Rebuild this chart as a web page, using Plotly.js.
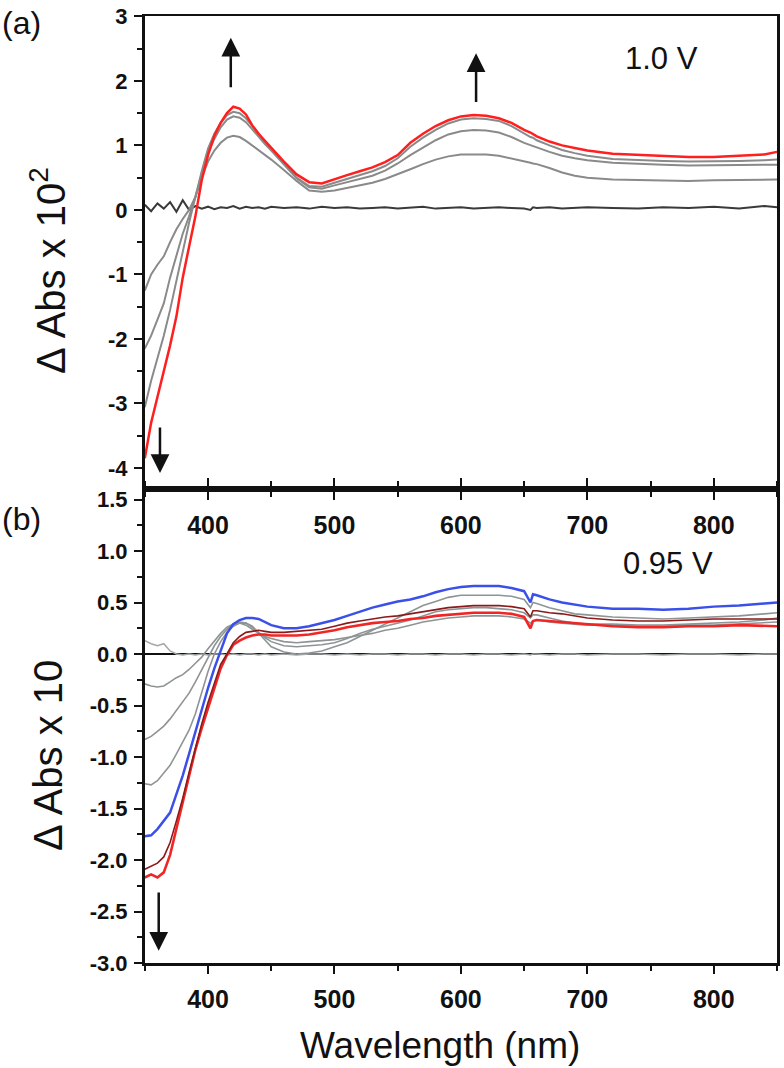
<!DOCTYPE html>
<html>
<head>
<meta charset="utf-8">
<script src="https://cdn.plot.ly/plotly-3.0.1.min.js"></script>
<style>
  html, body { margin: 0; padding: 0; background: #ffffff; }
  #chart { width: 784px; height: 1068px; }
</style>
</head>
<body>
<div id="chart"></div>
<script>
// Wavelength grid (nm), shared by all spectra
const wavelength = [350,355,360,365,370,375,380,385,390,395,
  400,405,410,415,420,425,430,435,440,445,
  450,460,470,480,490,500,510,520,530,540,
  550,560,570,580,590,600,610,620,630,640,
  650,655,657,660,670,680,690,700,720,740,
  760,780,800,820,840,850];

// ---- Panel (a), 1.0 V, ΔAbs x 10^2 ----
const aBaseline = [0.08,-0.02,0.1,0.02,0.12,-0.03,0.15,0.0,0.06,0.02,
  0.05,0.01,0.04,0.03,0.06,0.02,0.05,0.03,0.04,0.02,
  0.05,0.03,0.04,0.02,0.05,0.03,0.04,0.02,0.03,0.04,
  0.02,0.03,0.05,0.02,0.03,0.04,0.02,0.03,0.04,0.03,
  0.02,0.0,0.04,0.03,0.04,0.02,0.03,0.04,0.03,0.02,
  0.04,0.03,0.05,0.02,0.06,0.04];
const aGray1 = [-1.25,-1.0,-0.85,-0.72,-0.5,-0.3,-0.14,0.0,0.2,0.5,
  0.75,0.92,1.04,1.12,1.15,1.13,1.07,1.0,0.92,0.85,
  0.78,0.62,0.45,0.3,0.28,0.3,0.34,0.38,0.42,0.48,
  0.55,0.63,0.71,0.78,0.83,0.86,0.86,0.86,0.84,0.8,
  0.75,0.73,0.72,0.71,0.65,0.58,0.53,0.5,0.47,0.46,
  0.46,0.45,0.46,0.46,0.46,0.47];
const aGray2 = [-2.15,-1.95,-1.7,-1.45,-1.05,-0.7,-0.37,-0.1,0.2,0.55,
  0.88,1.1,1.28,1.4,1.45,1.43,1.36,1.25,1.13,1.02,
  0.92,0.7,0.49,0.35,0.33,0.38,0.43,0.48,0.53,0.61,
  0.72,0.85,0.97,1.08,1.17,1.22,1.24,1.23,1.2,1.13,
  1.04,1.0,0.99,0.97,0.9,0.84,0.8,0.77,0.73,0.71,
  0.7,0.69,0.69,0.69,0.7,0.7];
const aGray3 = [-3.06,-2.65,-2.3,-1.95,-1.55,-1.1,-0.63,-0.2,0.2,0.6,
  0.95,1.18,1.35,1.47,1.52,1.5,1.42,1.3,1.17,1.05,
  0.94,0.72,0.5,0.37,0.36,0.42,0.48,0.54,0.6,0.68,
  0.8,0.98,1.12,1.24,1.34,1.4,1.42,1.41,1.38,1.3,
  1.18,1.13,1.12,1.08,1.0,0.93,0.88,0.84,0.79,0.77,
  0.76,0.75,0.75,0.76,0.77,0.78];
const aRed = [-3.85,-3.3,-2.9,-2.5,-2.1,-1.65,-1.05,-0.57,-0.1,0.46,
  0.85,1.15,1.35,1.5,1.6,1.57,1.48,1.31,1.18,1.07,
  0.96,0.75,0.55,0.43,0.41,0.48,0.54,0.6,0.66,0.74,
  0.85,1.04,1.18,1.3,1.39,1.45,1.47,1.46,1.42,1.35,
  1.24,1.2,1.18,1.14,1.06,1.0,0.96,0.92,0.87,0.85,
  0.84,0.82,0.82,0.84,0.86,0.9];

// ---- Panel (b), 0.95 V, ΔAbs x 10 ----
const bGrayA = [0.13,0.1,0.08,0.1,0.03,0.0,-0.01,0.0,-0.01,0.0,
  -0.01,0.0,0.0,-0.01,0.0,-0.01,0.0,0.0,-0.01,0.0,
  -0.01,0.0,-0.01,0.0,0.0,-0.01,0.0,-0.01,0.0,0.0,
  -0.01,0.0,0.0,-0.01,0.0,0.0,-0.01,0.0,0.0,-0.01,
  0.0,-0.01,0.0,0.0,-0.01,0.0,0.0,-0.01,0.0,0.0,
  -0.01,0.0,0.0,-0.01,0.0,0.0];
const bGrayB = [-0.29,-0.31,-0.32,-0.31,-0.27,-0.23,-0.2,-0.15,-0.09,-0.03,
  0.05,0.13,0.2,0.26,0.29,0.3,0.28,0.24,0.2,0.17,
  0.15,0.12,0.11,0.12,0.13,0.14,0.16,0.18,0.2,0.23,
  0.25,0.28,0.31,0.33,0.35,0.36,0.37,0.37,0.37,0.36,
  0.34,0.3,0.32,0.33,0.31,0.3,0.29,0.28,0.28,0.27,
  0.27,0.28,0.28,0.29,0.3,0.31];
const bGrayC = [-0.83,-0.8,-0.75,-0.7,-0.63,-0.55,-0.47,-0.38,-0.27,-0.15,
  -0.03,0.08,0.17,0.24,0.29,0.31,0.3,0.26,0.21,0.16,
  0.12,0.08,0.07,0.08,0.09,0.11,0.15,0.2,0.24,0.27,
  0.3,0.33,0.37,0.41,0.43,0.44,0.45,0.45,0.44,0.43,
  0.4,0.35,0.38,0.38,0.35,0.32,0.3,0.29,0.29,0.28,
  0.28,0.29,0.3,0.31,0.33,0.35];
const bGrayD = [-1.26,-1.27,-1.23,-1.16,-1.08,-0.97,-0.86,-0.74,-0.58,-0.38,
  -0.17,0.0,0.12,0.21,0.27,0.3,0.3,0.27,0.2,0.13,
  0.07,0.02,0.0,0.01,0.03,0.07,0.11,0.17,0.23,0.29,
  0.35,0.41,0.47,0.51,0.55,0.57,0.57,0.57,0.57,0.56,
  0.53,0.45,0.5,0.49,0.45,0.42,0.39,0.38,0.36,0.35,
  0.34,0.35,0.36,0.37,0.39,0.4];
const bBlue = [-1.77,-1.76,-1.7,-1.62,-1.54,-1.36,-1.18,-0.97,-0.75,-0.53,
  -0.33,-0.14,0.03,0.2,0.29,0.33,0.35,0.35,0.34,0.31,
  0.28,0.25,0.25,0.27,0.3,0.33,0.37,0.41,0.45,0.48,
  0.51,0.53,0.56,0.6,0.63,0.65,0.66,0.66,0.66,0.64,
  0.61,0.5,0.58,0.57,0.53,0.5,0.48,0.46,0.44,0.44,
  0.43,0.44,0.46,0.47,0.49,0.5];
const bDarkRed = [-2.09,-2.06,-2.03,-1.97,-1.83,-1.62,-1.4,-1.15,-0.9,-0.68,
  -0.47,-0.28,-0.1,0.0,0.11,0.17,0.21,0.22,0.23,0.22,
  0.21,0.21,0.22,0.23,0.24,0.27,0.3,0.32,0.34,0.36,
  0.37,0.39,0.41,0.43,0.45,0.46,0.47,0.47,0.47,0.46,
  0.44,0.36,0.42,0.42,0.4,0.39,0.37,0.35,0.33,0.32,
  0.32,0.33,0.34,0.34,0.34,0.34];
const bRed = [-2.17,-2.14,-2.17,-2.12,-1.95,-1.7,-1.42,-1.17,-0.93,-0.72,
  -0.52,-0.33,-0.14,-0.01,0.09,0.13,0.16,0.18,0.19,0.19,
  0.18,0.18,0.18,0.19,0.21,0.23,0.26,0.28,0.3,0.31,
  0.32,0.34,0.35,0.37,0.38,0.39,0.4,0.4,0.4,0.39,
  0.36,0.25,0.32,0.33,0.32,0.31,0.3,0.29,0.27,0.26,
  0.26,0.27,0.27,0.28,0.27,0.27];

// Tick labels
const aTickVals = [-4,-3,-2,-1,0,1,2,3];
const aTickText = ['-4','-3','-2','-1','0','1','2','3'];
const bTickVals = [-3,-2.5,-2,-1.5,-1,-0.5,0,0.5,1,1.5];
const bTickText = ['-3.0','-2.5','-2.0','-1.5','-1.0','-0.5','0.0','0.5','1.0','1.5'];

const FONT = 'Liberation Sans, Arial, sans-serif';

function line(y, color, width, xa, ya) {
  return { x: wavelength, y: y, type: 'scatter', mode: 'lines',
    line: { color: color, width: width }, xaxis: xa, yaxis: ya,
    showlegend: false, hoverinfo: 'skip' };
}

const traces = [
  line(aBaseline, '#3a3a3a', 2, 'x', 'y'),
  line(aGray1, '#8a8a8a', 2, 'x', 'y'),
  line(aGray2, '#8a8a8a', 2, 'x', 'y'),
  line(aGray3, '#8a8a8a', 2, 'x', 'y'),
  line(aRed, '#ff1f1f', 2.5, 'x', 'y'),
  line(bGrayA, '#a4a8a8', 1.5, 'x2', 'y2'),
  line(bGrayB, '#8e9494', 1.6, 'x2', 'y2'),
  line(bGrayC, '#8e9494', 1.6, 'x2', 'y2'),
  line(bGrayD, '#8e9494', 1.6, 'x2', 'y2'),
  line(bRed, '#f02626', 2.6, 'x2', 'y2'),
  line(bDarkRed, '#8b1a1a', 1.6, 'x2', 'y2'),
  line(bBlue, '#3a50e8', 2.5, 'x2', 'y2')
];

const xDomain = [0.1847, 0.9911];
const tickFontX = { family: FONT, size: 25, color: '#111', weight: 700 };
const tickFontY = { family: FONT, size: 22, color: '#111', weight: 700 };

const commonX = {
  domain: xDomain, range: [350, 850], showline: true, linewidth: 2.8, linecolor: '#111',
  ticks: 'outside', ticklen: 8, tickwidth: 2, tickcolor: '#111',
  tickmode: 'linear', tick0: 0, dtick: 100,
  minor: { tickmode: 'linear', tick0: 0, dtick: 50, ticks: 'outside', ticklen: 5, tickwidth: 2, tickcolor: '#111' },
  showgrid: false, zeroline: false, tickfont: tickFontX, ticklabelstandoff: 4
};

function arrow(xa, ya, x, yHead, yTail) {
  return { xref: xa, yref: ya, axref: xa, ayref: ya, x: x, y: yHead, ax: x, ay: yTail,
    text: '', showarrow: true, arrowhead: 2, arrowsize: 1.5, arrowwidth: 2.5, arrowcolor: '#111', standoff: 0, startstandoff: 0 };
}

const layout = {
  width: 784, height: 1068,
  margin: { l: 0, r: 0, t: 0, b: 0 },
  paper_bgcolor: '#ffffff', plot_bgcolor: '#ffffff',
  font: { family: FONT, color: '#111' },
  showlegend: false,
  xaxis: Object.assign({}, commonX, { anchor: 'y', mirror: true }),
  xaxis2: Object.assign({}, commonX, { anchor: 'y2', mirror: 'ticks' }),
  yaxis: {
    domain: [0.54213, 0.98464], anchor: 'x', range: [-4.327, 3],
    showline: true, linewidth: 2.8, linecolor: '#111', mirror: true,
    ticks: 'outside', ticklen: 8, tickwidth: 2, tickcolor: '#111',
    tickmode: 'array', tickvals: aTickVals, ticktext: aTickText,
    minor: { tickmode: 'linear', tick0: 0, dtick: 0.5, ticks: 'outside', ticklen: 5, tickwidth: 2, tickcolor: '#111' },
    showgrid: false, zeroline: false, tickfont: tickFontY, ticklabelstandoff: 2
  },
  yaxis2: {
    domain: [0.09831, 0.54213], anchor: 'x2', range: [-3.0, 1.602],
    showline: true, linewidth: 2.8, linecolor: '#111', mirror: true,
    ticks: 'outside', ticklen: 8, tickwidth: 2, tickcolor: '#111',
    tickmode: 'array', tickvals: bTickVals, ticktext: bTickText,
    minor: { tickmode: 'linear', tick0: 0, dtick: 0.25, ticks: 'outside', ticklen: 5, tickwidth: 2, tickcolor: '#111' },
    showgrid: false, zeroline: true, zerolinecolor: '#111', zerolinewidth: 2.5,
    tickfont: tickFontY, ticklabelstandoff: 2
  },
  annotations: [
    { xref: 'paper', yref: 'paper', x: 0.0274, y: 0.9785, text: '(a)', showarrow: false,
      xanchor: 'center', yanchor: 'middle', font: { family: FONT, size: 32, color: '#111' } },
    { xref: 'paper', yref: 'paper', x: 0.0274, y: 0.5140, text: '(b)', showarrow: false,
      xanchor: 'center', yanchor: 'middle', font: { family: FONT, size: 32, color: '#111' } },
    { xref: 'x', yref: 'y', x: 758.7, y: 2.35, text: '1.0 V', showarrow: false,
      xanchor: 'center', yanchor: 'middle', font: { family: FONT, size: 31, color: '#111' } },
    { xref: 'x2', yref: 'y2', x: 763.4, y: 0.874, text: '0.95 V', showarrow: false,
      xanchor: 'center', yanchor: 'middle', font: { family: FONT, size: 31, color: '#111' } },
    { xref: 'paper', yref: 'paper', x: 0.0612, y: 0.7472, text: '\u0394 Abs x 10<sup>2</sup>', showarrow: false,
      textangle: -90, xanchor: 'center', yanchor: 'middle', font: { family: FONT, size: 40, color: '#111' } },
    { xref: 'paper', yref: 'paper', x: 0.0612, y: 0.2931, text: '\u0394 Abs x 10', showarrow: false,
      textangle: -90, xanchor: 'center', yanchor: 'middle', font: { family: FONT, size: 40, color: '#111' } },
    { xref: 'paper', yref: 'paper', x: 0.5612, y: 0.0206, text: 'Wavelength (nm)', showarrow: false,
      xanchor: 'center', yanchor: 'middle', font: { family: FONT, size: 37, color: '#111' } },
    arrow('x', 'y', 418, 2.67, 1.88),
    arrow('x', 'y', 612, 2.43, 1.65),
    arrow('x', 'y', 362, -4.08, -3.35),
    arrow('x2', 'y2', 361, -2.88, -2.30)
  ]
};

Plotly.newPlot('chart', traces, layout, { staticPlot: true, displayModeBar: false });
</script>
</body>
</html>
